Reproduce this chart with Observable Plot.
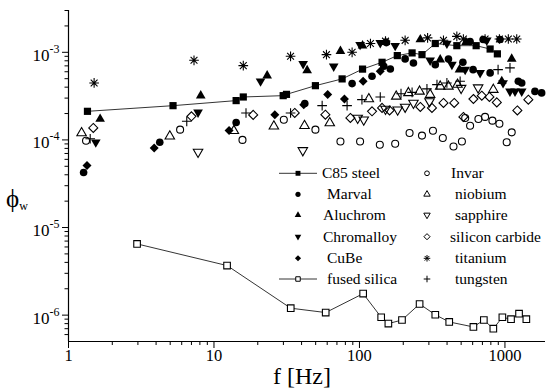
<!DOCTYPE html>
<html><head><meta charset="utf-8">
<script src="https://cdn.jsdelivr.net/npm/d3@7"></script>
<script src="https://cdn.jsdelivr.net/npm/@observablehq/plot@0.6"></script>
<style>body{margin:0;background:#fff;} #chart{position:relative;width:546px;height:392px;} svg text{font-family:"Liberation Serif","Times New Roman",serif;}</style>
</head><body><div id="chart"></div>
<script>
// ---- data: [frequency Hz, phi_w] ----
const c85steel = [[1.35,2.12e-4],[5.23,2.46e-4],[14.2,2.81e-4],[15.9,3.09e-4],[29.9,3.2e-4],[31.5,3.31e-4],[49.8,4.16e-4],[76,4.97e-4],[105,6.43e-4],[143,7.69e-4],[182,9.17e-4],[230,9.84e-4],[269,9.4e-4],[332,1.26e-3],[467,1.19e-3],[634,1.19e-3],[791,1.09e-3],[887,9.6e-4]];
const marval = [[1.27,4.25e-5],[4.24,9.4e-5],[14.2,1.58e-4],[42.1,2.6e-4],[89,4.39e-4],[122,5.32e-4],[147,6.92e-4],[163,6.45e-4],[206,8.41e-4],[235,7.56e-4],[332,7.23e-4],[409,8.4e-4],[514,7.69e-4],[604,6.34e-4],[791,5.82e-4],[1236,4.67e-4],[1304,4.47e-4],[1608,3.58e-4],[1787,3.44e-4],[153,1.29e-3],[576,1.33e-3],[708,1.4e-3],[925,1.4e-3]];
const aluchrom = [[1.65,1.73e-4],[8.11,3.2e-4],[23.2,5.42e-4],[43.7,6.22e-4],[74,1.03e-3],[105,1.19e-3],[151,1.3e-3],[262,1.4e-3],[359,8.25e-4],[487,6.34e-4],[540,1.3e-3],[951,4.67e-4],[1113,8.4e-4]];
const chromalloy = [[1.54,9.4e-5],[7.77,2.06e-4],[20.9,4.67e-4],[41,7.37e-4],[66.5,6.92e-4],[101,1.22e-3],[139,1.28e-3],[176,1.19e-3],[306,8.1e-4],[399,1.26e-3],[432,7.23e-4],[533,6.34e-4],[675,5.82e-4],[750,1.37e-3],[971,4.47e-4],[1083,3.58e-4],[1173,3.58e-4],[1304,3.58e-4]];
const cube = [[1.34,5.12e-5],[3.88,8.07e-5],[12.7,1.28e-4],[26.2,1.94e-4],[41.4,2.52e-4],[60.5,3.29e-4],[78.8,2.93e-4],[106,4.67e-4],[139,6.06e-4]];
const fusedSilica = [[2.96,6.5e-6],[12.3,3.68e-6],[33.7,1.2e-6],[58.6,1.07e-6],[106,1.76e-6],[141,9.46e-7],[158,8.0e-7],[196,8.8e-7],[259,1.34e-6],[332,1.01e-6],[414,8.36e-7],[607,7.33e-7],[716,8.8e-7],[832,7.0e-7],[960,9.46e-7],[1101,8.98e-7],[1250,1.04e-6],[1403,9.0e-7]];
const invar = [[1.32,9.8e-5],[5.85,1.31e-4],[15.7,1.0e-4],[30.2,1.7e-4],[49.8,1.31e-4],[74,9.6e-5],[101,9.6e-5],[138,8.8e-5],[176,9.05e-5],[221,1.2e-4],[269,1.12e-4],[320,1.27e-4],[374,1.05e-4],[443,8.4e-5],[506,9.6e-5],[533,1.78e-4],[576,1.45e-4],[657,1.73e-4],[730,1.83e-4],[820,1.66e-4],[916,1.53e-4],[1028,9.4e-5],[1113,1.22e-4]];
const niobium = [[1.23,1.2e-4],[4.97,1.1e-4],[13.7,1.27e-4],[25.8,1.43e-4],[41.9,1.45e-4],[62.5,1.56e-4],[116,2.93e-4],[179,3.14e-4],[217,3.44e-4],[259,3.58e-4],[306,3.29e-4],[359,4.08e-4],[409,4.08e-4],[472,4.28e-4],[832,3.75e-4]];
const sapphire = [[7.77,7.28e-5],[40.8,7.59e-5],[97.2,1.78e-4],[107,1.7e-4],[151,2.25e-4],[183,2.21e-4],[206,2.38e-4],[235,2.64e-4],[303,2.75e-4],[500,3.9e-4],[654,3.95e-4]];
const siliconCarbide = [[1.48,1.37e-4],[7.0,1.86e-4],[18.6,1.93e-4],[35.9,2.03e-4],[58.3,1.94e-4],[86.6,1.78e-4],[122,2.12e-4],[143,2.32e-4],[161,2.17e-4],[262,2.38e-4],[315,2.32e-4],[378,2.64e-4],[448,2.64e-4],[518,1.83e-4],[607,2.93e-4],[693,3.2e-4],[782,3.09e-4],[879,2.68e-4],[1217,2.17e-4],[1448,2.88e-4]];
const titanium = [[1.5,4.47e-4],[7.29,8.1e-4],[15.9,7.05e-4],[33.6,9.0e-4],[59.3,9.4e-4],[89,1.0e-3],[119,1.26e-3],[151,1.34e-3],[206,1.37e-3],[294,1.46e-3],[378,1.37e-3],[467,1.52e-3],[518,1.42e-3],[730,1.42e-3],[916,1.42e-3],[1055,1.42e-3],[1205,1.42e-3]];
const tungsten = [[1.41,1.03e-4],[6.5,1.63e-4],[16.6,2.03e-4],[33.6,2.03e-4],[55.4,2.46e-4],[82.2,2.46e-4],[104,2.88e-4],[139,3.09e-4],[193,3.37e-4],[230,3.49e-4],[291,3.82e-4],[341,4.28e-4],[399,4.47e-4],[492,4.67e-4],[897,6.34e-4],[1083,6.64e-4]];

// ---- axes ----
const xDomain = [1, 1900];
const yDomain = [5e-7, 3e-3];
const xMajor = [1, 10, 100, 1000];
const xMinor = [1, 10, 100].flatMap(d => [2,3,4,5,6,7,8,9].map(m => m * d));
const yMajor = [1e-6, 1e-5, 1e-4, 1e-3];
const yMinor = [6e-7,7e-7,8e-7,9e-7].concat([1e-6,1e-5,1e-4].flatMap(d => [2,3,4,5,6,7,8,9].map(m => m * d)), [2e-3, 3e-3]);

// ---- symbols ----
const R = s => Math.sqrt(s / Math.PI);
const symSquare = {draw(c, s){const r = R(s); c.moveTo(-r,-r); c.lineTo(r,-r); c.lineTo(r,r); c.lineTo(-r,r); c.closePath();}};
const symCircle = {draw(c, s){const r = R(s); c.moveTo(r,0); c.arc(0,0,r,0,2*Math.PI);}};
const symTriUp = {draw(c, s){const r = R(s), a = 2.2*r, h = a*Math.sqrt(3)/2; c.moveTo(0,-2*h/3); c.lineTo(a/2,h/3); c.lineTo(-a/2,h/3); c.closePath();}};
const symTriDown = {draw(c, s){const r = R(s), a = 2.2*r, h = a*Math.sqrt(3)/2; c.moveTo(0,2*h/3); c.lineTo(a/2,-h/3); c.lineTo(-a/2,-h/3); c.closePath();}};
const symDiamond = {draw(c, s){const r = R(s)*1.25; c.moveTo(0,-r); c.lineTo(r,0); c.lineTo(0,r); c.lineTo(-r,0); c.closePath();}};
const symStar = {draw(c, s){const r = R(s)*1.15; for (const a of [0,45,90,135]) {const t = a*Math.PI/180; c.moveTo(-r*Math.cos(t),-r*Math.sin(t)); c.lineTo(r*Math.cos(t), r*Math.sin(t));}}};
const symPlus = {draw(c, s){const r = R(s)*1.15; c.moveTo(-r,0); c.lineTo(r,0); c.moveTo(0,-r); c.lineTo(0,r);}};

const series = [
  {name:"C85 steel", data:c85steel, sym:symSquare, fill:"black", stroke:"none", r:3.6, line:true, col:0, row:0, tx:322},
  {name:"Marval", data:marval, sym:symCircle, fill:"black", stroke:"none", r:3.8, col:0, row:1, tx:327},
  {name:"Aluchrom", data:aluchrom, sym:symTriUp, fill:"black", stroke:"none", r:4.4, col:0, row:2, tx:323},
  {name:"Chromalloy", data:chromalloy, sym:symTriDown, fill:"black", stroke:"none", r:4.4, col:0, row:3, tx:323},
  {name:"CuBe", data:cube, sym:symDiamond, fill:"black", stroke:"none", r:3.6, col:0, row:4, tx:327},
  {name:"fused silica", data:fusedSilica, sym:symSquare, fill:"white", stroke:"black", r:3.3, line:true, col:0, row:5, tx:327},
  {name:"Invar", data:invar, sym:symCircle, fill:"none", stroke:"black", r:3.5, col:1, row:0, tx:451},
  {name:"niobium", data:niobium, sym:symTriUp, fill:"none", stroke:"black", r:4.3, col:1, row:1, tx:455},
  {name:"sapphire", data:sapphire, sym:symTriDown, fill:"none", stroke:"black", r:4.3, col:1, row:2, tx:455},
  {name:"silicon carbide", data:siliconCarbide, sym:symDiamond, fill:"none", stroke:"black", r:3.6, col:1, row:3, tx:450},
  {name:"titanium", data:titanium, sym:symStar, fill:"none", stroke:"black", r:4.2, col:1, row:4, tx:455},
  {name:"tungsten", data:tungsten, sym:symPlus, fill:"none", stroke:"black", r:4.2, col:1, row:5, tx:455}
];

const FONT = "Liberation Serif";
const marks = [
  Plot.ruleX([xDomain[0]], {stroke:"black", strokeWidth:1.2}),
  Plot.ruleY([yDomain[0]], {stroke:"black", strokeWidth:1.2}),
  Plot.axisX({ticks:xMajor, tickSize:7, tickPadding:1, tickFormat:d => String(d), label:null, fontFamily:FONT, fontSize:16.5}),
  Plot.axisX({ticks:xMinor, tickSize:4, fill:"none", label:null}),
  Plot.axisY({ticks:yMajor, tickSize:6, tickPadding:3, tickFormat:d => "10^" + Math.round(Math.log10(d)), label:null, fontFamily:FONT, fontSize:17}),
  Plot.axisY({ticks:yMinor, tickSize:3.5, fill:"none", label:null})
];
for (const s of series) {
  if (s.line) marks.push(Plot.line(s.data, {x:d => d[0], y:d => d[1], stroke:"black", strokeWidth:0.8}));
}
for (const s of series) {
  marks.push(Plot.dot(s.data, {x:d => d[0], y:d => d[1], symbol:s.sym, r:s.r, fill:s.fill, stroke:s.stroke, strokeWidth:1.1}));
}

const plot = Plot.plot({
  width:546, height:392,
  marginLeft:68, marginRight:1, marginTop:10, marginBottom:51,
  style:{fontFamily:FONT, fontSize:"16px", background:"white", overflow:"visible"},
  x:{type:"log", domain:xDomain},
  y:{type:"log", domain:yDomain},
  marks
});
document.getElementById("chart").appendChild(plot);

const svg = d3.select(plot);
// superscript exponents on y tick labels
svg.selectAll('g[aria-label="y-axis tick label"] text').each(function() {
  const t = this.textContent;
  const e = t.split("^")[1];
  this.textContent = "";
  const sel = d3.select(this);
  sel.append("tspan").attr("dy", 3).text("10");
  sel.append("tspan").attr("dy", -8).attr("font-size", 12).text(e);
});

// axis titles
svg.append("text").attr("x", 302).attr("y", 384).attr("text-anchor", "middle")
  .attr("font-size", 24).text("f [Hz]");
const yl = svg.append("text").attr("x", 6).attr("y", 207).attr("text-anchor", "start").attr("font-size", 25);
yl.append("tspan").text("ϕ");
yl.append("tspan").attr("dy", 3).attr("font-size", 12).text("w");

// legend
const colX = [298, 427];
const rowY = [173.3, 194.3, 215, 236.7, 258.3, 279];
const lg = svg.append("g").attr("font-size", 15.5).attr("text-anchor", "start");
for (const s of series) {
  const cx = colX[s.col], cy = rowY[s.row];
  if (s.line) {
    lg.append("line").attr("x1", cx - 19).attr("x2", cx + 19).attr("y1", cy).attr("y2", cy)
      .attr("stroke", "black").attr("stroke-width", 0.8);
  }
  const lr = s.r * 0.68;
  lg.append("path").attr("transform", `translate(${cx},${cy})`)
    .attr("d", d3.symbol(s.sym, Math.PI * lr * lr)())
    .attr("fill", s.fill).attr("stroke", s.stroke).attr("stroke-width", 1);
  lg.append("text").attr("x", s.tx).attr("y", cy + 5).attr("text-anchor", "start").text(s.name);
}
</script></body></html>
